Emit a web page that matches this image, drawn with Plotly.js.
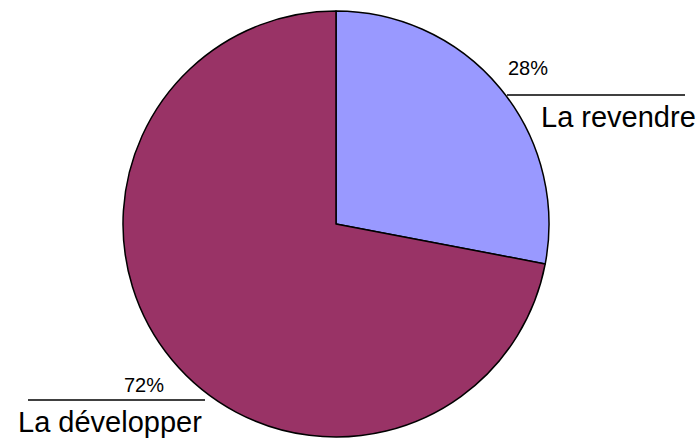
<!DOCTYPE html>
<html>
<head>
<meta charset="utf-8">
<script src="https://cdn.plot.ly/plotly-3.0.1.min.js"></script>
<style>html,body{margin:0;padding:0;background:#fff;}#chart{width:699px;height:442px;}</style>
</head>
<body>
<div id="chart"></div>
<script>
const labels = ["La revendre", "La développer"];
const values = [28, 72];
const percentLabels = ["28%", "72%"];
const colors = ["#9999FF", "#993366"];

const W = 699, H = 442;
const px = x => x / W;
const py = y => 1 - y / H;

const cx = 336, cy = 224, r = 213;

const data = [{
  type: "pie",
  labels: labels,
  values: values,
  sort: false,
  direction: "clockwise",
  rotation: 0,
  textinfo: "none",
  hoverinfo: "label+percent",
  marker: { colors: colors, line: { color: "#000000", width: 1.5 } },
  domain: { x: [px(cx - r), px(cx + r)], y: [py(cy + r), py(cy - r)] },
  showlegend: false
}];

const font = "Liberation Sans, Arial, sans-serif";
const layout = {
  width: W, height: H,
  margin: { l: 0, r: 0, t: 0, b: 0 },
  paper_bgcolor: "#ffffff",
  showlegend: false,
  annotations: [
    { xref: "paper", yref: "paper", x: px(507), y: py(68), xanchor: "left", yanchor: "middle",
      text: percentLabels[0], showarrow: false, borderpad: 0, font: { family: font, size: 20, color: "#000" } },
    { xref: "paper", yref: "paper", x: px(540), y: py(117), xanchor: "left", yanchor: "middle",
      text: labels[0], showarrow: false, borderpad: 0, font: { family: font, size: 29, color: "#000" } },
    { xref: "paper", yref: "paper", x: px(165), y: py(385), xanchor: "right", yanchor: "middle",
      text: percentLabels[1], showarrow: false, borderpad: 0, font: { family: font, size: 20, color: "#000" } },
    { xref: "paper", yref: "paper", x: px(17), y: py(422), xanchor: "left", yanchor: "middle",
      text: labels[1], showarrow: false, borderpad: 0, font: { family: font, size: 29, color: "#000" } }
  ],
  shapes: [
    { type: "line", xref: "paper", yref: "paper", x0: px(507), x1: px(685), y0: py(95), y1: py(95),
      line: { color: "#000", width: 1.5 } },
    { type: "line", xref: "paper", yref: "paper", x0: px(28), x1: px(205), y0: py(400), y1: py(400),
      line: { color: "#000", width: 1.5 } }
  ]
};

Plotly.newPlot("chart", data, layout, { displayModeBar: false, staticPlot: true });
</script>
</body>
</html>
